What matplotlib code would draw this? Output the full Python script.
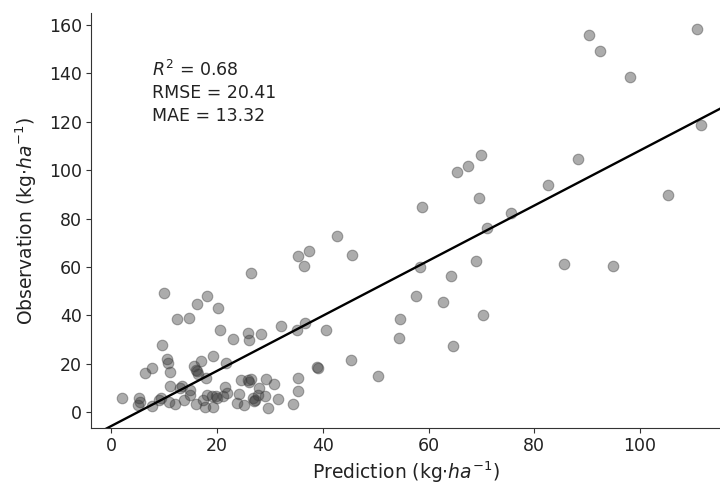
"""Observation vs Prediction scatter with fitted line."""

import matplotlib
matplotlib.use("Agg")
import matplotlib.pyplot as plt
import numpy as np

prediction = [
    2.1, 5.2, 5.4, 5.0, 7.8, 9.5, 9.0, 11.2, 12.1, 11.0,
    13.4, 13.8, 14.9, 16.0, 17.3, 18.2, 17.7, 19.2, 19.9, 21.2,
    21.6, 23.8, 24.2, 25.1, 24.6, 25.8, 26.4, 26.0, 26.8, 27.2,
    27.7, 27.0, 29.0, 29.2, 29.6, 30.7, 31.5, 34.3, 35.3, 35.3,
    38.9, 39.2, 18.0, 16.4, 13.0, 15.0, 20.0, 22.0, 28.0, 19.0,
    6.5, 7.8, 10.5, 10.8, 11.2, 15.6, 16.0, 17.0, 19.2, 21.8,
    16.2, 9.7, 23.1, 25.8, 26.0, 28.3, 32.2, 35.2, 36.6, 20.5,
    12.4, 14.7, 16.2, 18.2, 20.3, 10.0, 26.5,
    35.4, 36.4, 37.5, 42.7, 45.5, 40.6, 45.3, 50.4,
    58.8, 69.5, 75.5, 71.0, 58.4, 68.9, 64.3, 57.6, 62.7, 70.3,
    54.7, 54.5, 64.6, 65.4, 67.4, 70.0, 82.6, 88.2, 85.6, 94.8,
    105.3, 111.5, 110.8, 90.4, 92.4, 98.1,
]
observation = [
    5.8, 5.8, 4.0, 3.0, 2.4, 5.8, 5.0, 10.7, 3.3, 4.0,
    10.7, 5.1, 7.2, 3.3, 5.1, 7.2, 2.1, 2.1, 6.5, 6.5,
    10.3, 3.8, 7.6, 3.1, 13.1, 13.1, 13.5, 12.5, 5.8, 5.1,
    7.2, 4.5, 6.5, 13.5, 1.7, 11.4, 5.4, 3.3, 13.9, 8.6,
    18.8, 18.3, 14.0, 15.6, 10.0, 9.0, 6.0, 8.0, 10.0, 6.5,
    16.0, 18.2, 22.1, 20.3, 16.5, 19.0, 17.4, 21.3, 23.3, 20.4,
    16.8, 27.8, 30.4, 32.5, 29.9, 32.2, 35.4, 33.9, 36.7, 33.8,
    38.5, 38.9, 44.6, 47.9, 43.2, 49.3, 57.6,
    64.4, 60.4, 66.5, 72.6, 65.0, 34.0, 21.7, 15.1,
    84.6, 88.5, 82.2, 76.3, 59.9, 62.6, 56.4, 47.9, 45.4, 40.3,
    38.3, 30.6, 27.2, 99.2, 101.7, 106.1, 93.8, 104.7, 61.4, 60.3,
    89.9, 118.6, 158.3, 156.1, 149.2, 138.5,
]

# 회귀선 계수 (기울기, 절편)
fit_coef = [1.14, -5.8]

stats_text = "$R^2$ = 0.68\nRMSE = 20.41\nMAE = 13.32"

x_ticks = [0, 20, 40, 60, 80, 100]
y_ticks = [0, 20, 40, 60, 80, 100, 120, 140, 160]
x_lim = (-3.8, 115.1)
y_lim = (-6.6, 165.0)

text_color = "#222222"

fig = plt.figure(figsize=(7.2, 4.93), dpi=100)
ax = fig.add_axes([0.1264, 0.1318, 0.8736, 0.8418])

ax.scatter(prediction, observation, s=58, color="#3a3a3a", alpha=0.42,
           linewidths=0.8, zorder=2)

line_x = np.array(x_lim)
ax.plot(line_x, np.polyval(fit_coef, line_x), color="black", lw=1.7, zorder=3)

ax.set_xlim(*x_lim)
ax.set_ylim(*y_lim)
ax.set_xticks(x_ticks)
ax.set_yticks(y_ticks)

ax.spines["top"].set_visible(False)
ax.spines["right"].set_visible(False)
for side in ("left", "bottom"):
    ax.spines[side].set_color("#333333")

ax.tick_params(labelsize=12.5, colors="#333333", labelcolor=text_color, pad=3)
ax.set_xlabel(r"Prediction (kg$\cdot ha^{-1}$)", fontsize=13.5, color=text_color,
              labelpad=3)
ax.set_ylabel(r"Observation (kg$\cdot ha^{-1}$)", fontsize=13.5, color=text_color,
              labelpad=7)

ax.text(0.097, 0.888, stats_text, transform=ax.transAxes, fontsize=12.5,
        va="top", ha="left", linespacing=1.35, color=text_color)

fig.savefig("out.png", dpi=100)
